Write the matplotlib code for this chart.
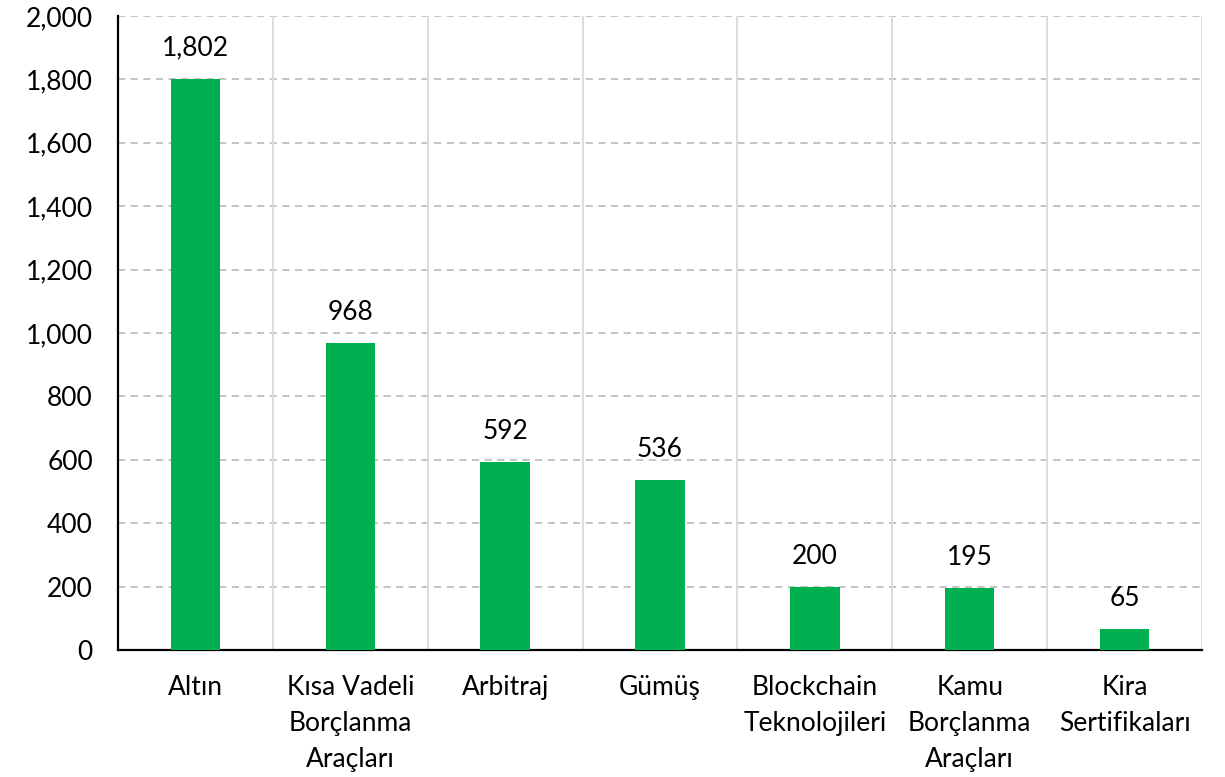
import matplotlib
matplotlib.use("Agg")
import matplotlib.pyplot as plt
import numpy as np

categories = ["Altın", "Kısa Vadeli\nBorçlanma\nAraçları", "Arbitraj", "Gümüş",
              "Blockchain\nTeknolojileri", "Kamu\nBorçlanma\nAraçları", "Kira\nSertifikaları"]
values = [1802, 968, 592, 536, 200, 195, 65]
label_texts = ["1,802", "968", "592", "536", "200", "195", "65"]
yticks = [0, 200, 400, 600, 800, 1000, 1200, 1400, 1600, 1800, 2000]

plt.rcParams['font.family'] = ['Lato', 'DejaVu Sans']
fs = 19

fig = plt.figure(figsize=(12.25, 7.77), dpi=100)
ax = fig.add_axes([118/1225, 1-650/777, (1202-118)/1225, (650-16)/777])

x = np.arange(len(categories))
ax.bar(x, values, width=0.32, color="#00B050", zorder=3)

ax.set_xlim(-0.5, len(categories)-0.5)
ax.set_ylim(0, 2000)
ax.set_yticks(yticks)
ax.set_yticklabels([f"{v:,}" for v in yticks], fontsize=fs)
ax.set_xticks(x)
ax.set_xticklabels(categories, fontsize=fs, linespacing=1.55)
ax.tick_params(axis='both', length=0)
ax.tick_params(axis='y', pad=18)
ax.tick_params(axis='x', pad=18)

for yv in yticks[1:]:
    ax.axhline(yv, color="#BFBFBF", lw=1.3, ls=(0, (4, 3)), zorder=1)
for b in np.arange(0.5, len(categories), 1.0):
    ax.axvline(b, color="#D9D9D9", lw=1.3, zorder=1)

for xi, v, t in zip(x, values, label_texts):
    ax.annotate(t, (xi, v), xytext=(0, 22), textcoords='offset points',
                ha='center', va='center', fontsize=fs)

for s in ['top', 'right']:
    ax.spines[s].set_visible(False)
ax.spines['left'].set_linewidth(1.6)
ax.spines['bottom'].set_linewidth(1.6)
ax.spines['left'].set_color('black')
ax.spines['bottom'].set_color('black')

fig.savefig("out.png", dpi=100)
